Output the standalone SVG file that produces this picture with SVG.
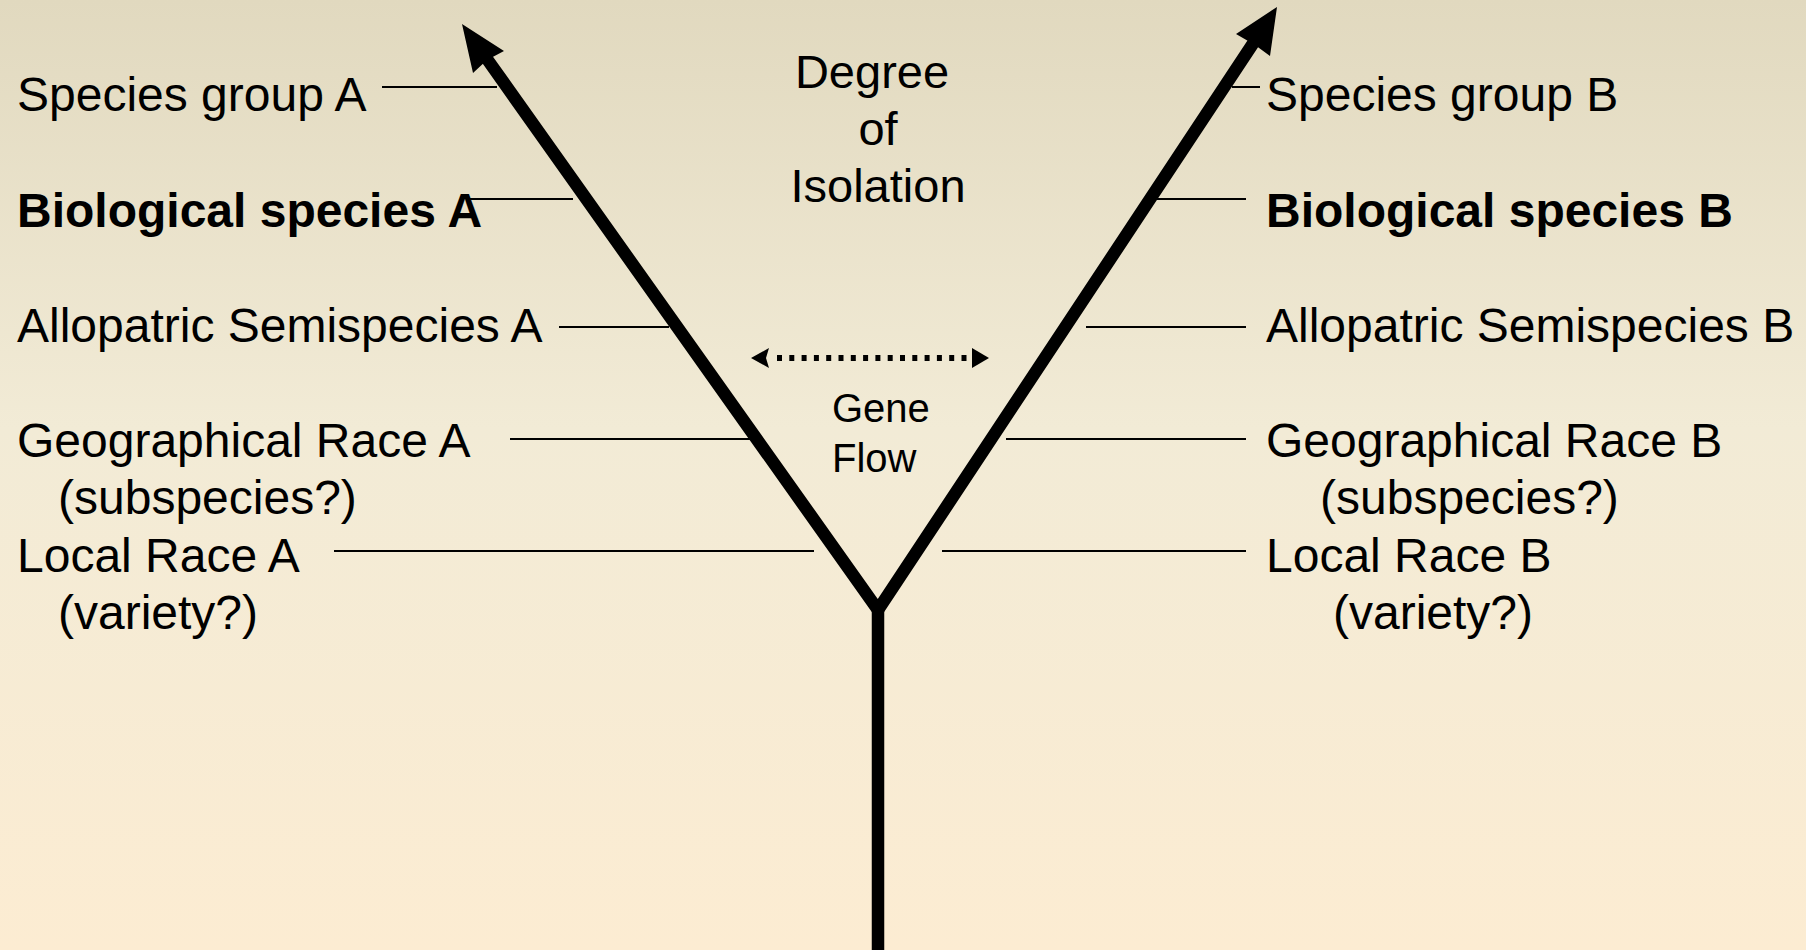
<svg xmlns="http://www.w3.org/2000/svg" width="1806" height="950" viewBox="0 0 1806 950">
  <defs>
    <linearGradient id="bg" x1="0" y1="0" x2="0" y2="1">
      <stop offset="0" stop-color="#e1d9bf"/>
      <stop offset="0.45" stop-color="#f2ebd6"/>
      <stop offset="1" stop-color="#fcecd2"/>
    </linearGradient>
    <style>
      .lbl { font-family: "Liberation Sans", Arial, sans-serif; font-size: 48px; fill: #000; }
      .bold { font-weight: bold; }
      .mid { font-family: "Liberation Sans", Arial, sans-serif; font-size: 47px; fill: #000; text-anchor: middle; }
      .gf { font-family: "Liberation Sans", Arial, sans-serif; font-size: 40px; fill: #000; }
      .thin { stroke: #000; stroke-width: 2; fill: none; }
      .thick { stroke: #000; stroke-width: 12.5; fill: none; stroke-linejoin: miter; stroke-miterlimit: 10; }
      .dots { stroke: #000; stroke-width: 6; fill: none; stroke-dasharray: 5 7.3; }
    </style>
  </defs>
  <rect x="0" y="0" width="1806" height="950" fill="url(#bg)"/>

  <g id="connectors">
    <!-- Y-shaped tree -->
    <polyline class="thick" points="487,59 878,610 1254,42"/>
    <line class="thick" x1="878" y1="608" x2="878" y2="950"/>
    <polygon points="462,24 504,51 487,60 473,73" fill="#000"/>
    <polygon points="1277,7 1270,56 1255,45 1236,34" fill="#000"/>
    <!-- gene flow arrow -->
    <line class="dots" x1="777" y1="358" x2="970" y2="358"/>
    <polygon points="751,358 769,348 766,358 769,368" fill="#000"/>
    <polygon points="989,358 972,348 972,368" fill="#000"/>
    <!-- left leaders -->
    <line class="thin" x1="382" y1="87" x2="497" y2="87"/>
    <line class="thin" x1="467" y1="199" x2="573" y2="199"/>
    <line class="thin" x1="559" y1="327" x2="669" y2="327"/>
    <line class="thin" x1="510" y1="439" x2="750" y2="439"/>
    <line class="thin" x1="334" y1="551" x2="814" y2="551"/>
    <!-- right leaders -->
    <line class="thin" x1="1232" y1="87" x2="1260" y2="87"/>
    <line class="thin" x1="1157" y1="199" x2="1246" y2="199"/>
    <line class="thin" x1="1086" y1="327" x2="1246" y2="327"/>
    <line class="thin" x1="1006" y1="439" x2="1246" y2="439"/>
    <line class="thin" x1="942" y1="551" x2="1246" y2="551"/>
  </g>

  <g id="species-group-a"><text class="lbl" x="17" y="111">Species group A</text></g>
  <g id="biological-species-a"><text class="lbl bold" x="17" y="227">Biological species A</text></g>
  <g id="allopatric-a"><text class="lbl" x="17" y="342">Allopatric Semispecies A</text></g>
  <g id="geographical-a"><text class="lbl" x="17" y="457">Geographical Race A</text><text class="lbl" x="58" y="514">(subspecies?)</text></g>
  <g id="local-a"><text class="lbl" x="17" y="572">Local Race A</text><text class="lbl" x="58" y="629">(variety?)</text></g>

  <g id="species-group-b"><text class="lbl" x="1266" y="111">Species group B</text></g>
  <g id="biological-species-b"><text class="lbl bold" x="1266" y="227">Biological species B</text></g>
  <g id="allopatric-b"><text class="lbl" x="1266" y="342">Allopatric Semispecies B</text></g>
  <g id="geographical-b"><text class="lbl" x="1266" y="457">Geographical Race B</text><text class="lbl" x="1320" y="514">(subspecies?)</text></g>
  <g id="local-b"><text class="lbl" x="1266" y="572">Local Race B</text><text class="lbl" x="1333" y="629">(variety?)</text></g>

  <g id="degree-of-isolation">
    <text class="mid" x="872" y="88">Degree</text>
    <text class="mid" x="878" y="145">of</text>
    <text class="mid" x="878" y="202">Isolation</text>
  </g>
  <g id="gene-flow">
    <text class="gf" x="832" y="422">Gene</text>
    <text class="gf" x="832" y="472">Flow</text>
  </g>
</svg>
